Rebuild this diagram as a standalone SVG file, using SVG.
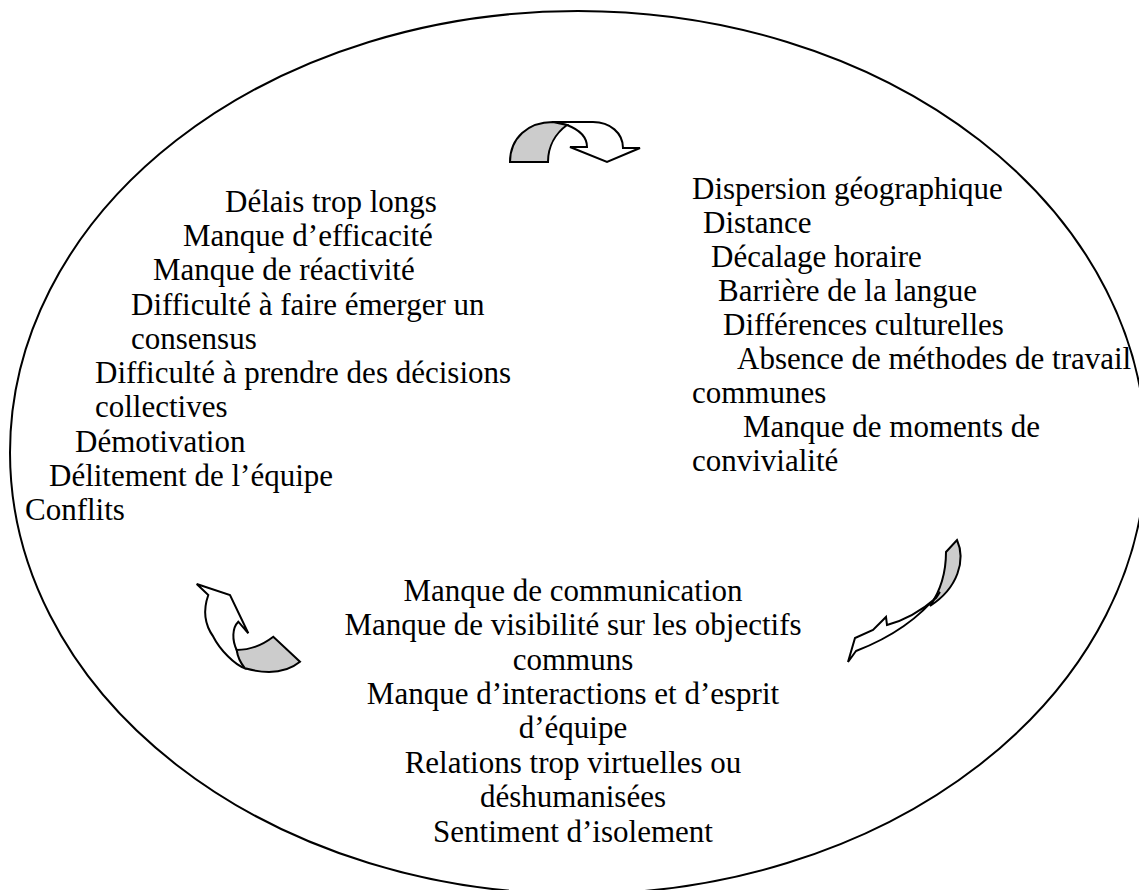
<svg xmlns="http://www.w3.org/2000/svg" width="1139" height="890" viewBox="0 0 1139 890">
  <style>
    .t { font-family: "Liberation Serif", "Times New Roman", serif; font-size: 31px; fill: #000; }
    .c { text-anchor: middle; }
    .ring { fill: none; stroke: #000; stroke-width: 2; }
    .back { fill: #cccccc; stroke: #000; stroke-width: 2; stroke-linejoin: miter; }
    .front { fill: #fff; stroke: #000; stroke-width: 2; stroke-linejoin: miter; }
  </style>
  <rect width="1139" height="890" fill="#fff"/>

  <!-- outer cycle -->
  <ellipse id="cycle" class="ring" cx="578" cy="452.5" rx="568" ry="441.5"/>

  <!-- curved arrows between the three groups -->
  <g id="connectors">
    <g id="arrow-top">
      <path class="front" d="M552,122 L593,122 C610,122 623,133 623,148 L640,148 L607,162 L570,147 L587,147 C587,138 580,130 567,125 Z"/>
      <path class="back" d="M510,162 C510,138 528,122 553,122 L567,125 C556,133 548,146 548,162 Z"/>
    </g>
    <g id="arrow-right">
      <path class="back" d="M946,552 L957,540 C966,560 958,588 930,606 C941,590 946,572 946,552 Z"/>
      <path class="front" d="M936,598 C920,612 902,621 887,625 L886,617 L873,630 L855,638 L848,662 L856,651 C882,641 915,624 940,592 Z"/>
    </g>
    <g id="arrow-left">
      <path class="front" d="M196.7,584 L230,595 L248.3,633.3 L238.3,621.7 C232,628 232,640 236.7,650 L245,668.3 C235,665 220,650 213.3,636.7 C205,625 203,610 208.3,595 Z"/>
      <path class="back" d="M236.7,650 Q256,650 273.3,636.7 L300,661.7 Q280,678 245,668.3 Q238,660 236.7,650 Z"/>
    </g>
  </g>

  <!-- effects -->
  <g id="node-effects" class="t">
    <text x="225" y="212">Délais trop longs</text>
    <text x="183" y="246">Manque d’efficacité</text>
    <text x="153" y="280">Manque de réactivité</text>
    <text x="131" y="315">Difficulté à faire émerger un</text>
    <text x="131" y="349">consensus</text>
    <text x="95" y="383">Difficulté à prendre des décisions</text>
    <text x="95" y="417">collectives</text>
    <text x="75" y="452">Démotivation</text>
    <text x="49" y="486">Délitement de l’équipe</text>
    <text x="25" y="520">Conflits</text>
  </g>

  <!-- causes -->
  <g id="node-causes" class="t">
    <text x="692" y="199">Dispersion géographique</text>
    <text x="703" y="233">Distance</text>
    <text x="711" y="267">Décalage horaire</text>
    <text x="718" y="301">Barrière de la langue</text>
    <text x="723" y="335">Différences culturelles</text>
    <text x="737" y="369">Absence de méthodes de travail</text>
    <text x="692" y="403">communes</text>
    <text x="743" y="437">Manque de moments de</text>
    <text x="692" y="471">convivialité</text>
  </g>

  <!-- consequences -->
  <g id="node-consequences" class="t c">
    <text x="573" y="601">Manque de communication</text>
    <text x="573" y="635">Manque de visibilité sur les objectifs</text>
    <text x="573" y="670">communs</text>
    <text x="573" y="704">Manque d’interactions et d’esprit</text>
    <text x="573" y="738">d’équipe</text>
    <text x="573" y="773">Relations trop virtuelles ou</text>
    <text x="573" y="807">déshumanisées</text>
    <text x="573" y="842">Sentiment d’isolement</text>
  </g>
</svg>
